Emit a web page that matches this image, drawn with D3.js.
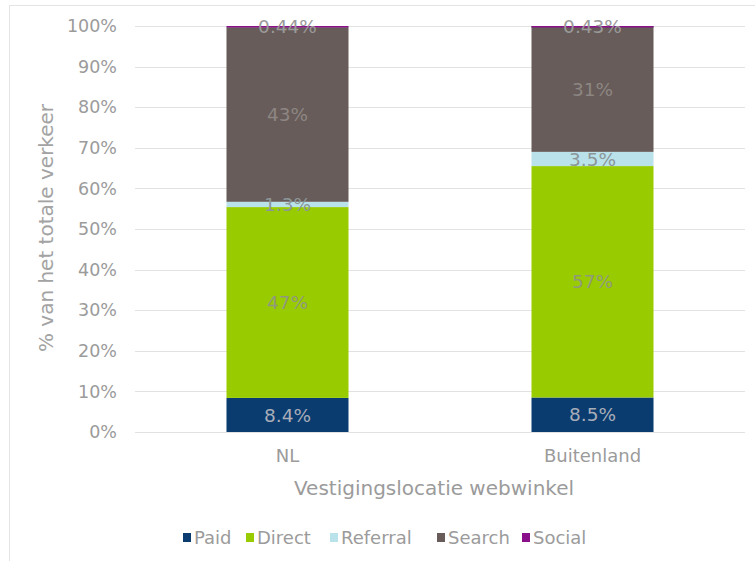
<!DOCTYPE html>
<html>
<head>
<meta charset="utf-8">
<script src="https://cdn.jsdelivr.net/npm/d3@7"></script>
<style>
  html, body { margin: 0; padding: 0; background: #fff; }
  svg { display: block; }
  text { font-family: "DejaVu Sans", Verdana, sans-serif; }
</style>
</head>
<body>
<svg id="chart" width="755" height="561"></svg>
<script>
const categories = ["NL", "Buitenland"];
const seriesNames = ["Paid", "Direct", "Referral", "Search", "Social"];
const paid = [8.4, 8.5];
const direct = [47, 57];
const referral = [1.3, 3.5];
const search = [43, 31];
const social = [0.44, 0.43];
const labelText = {
  Paid: ["8.4%", "8.5%"],
  Direct: ["47%", "57%"],
  Referral: ["1.3%", "3.5%"],
  Search: ["43%", "31%"],
  Social: ["0.44%", "0.43%"]
};
const yTicks = [0, 10, 20, 30, 40, 50, 60, 70, 80, 90, 100];
const colors = ["#0a3c70", "#99cc00", "#b9e2ea", "#675c59", "#8a0f8a"];
const labelColors = ["#a9adb8", "#8f9a7c", "#8c9698", "#8d8683", "#9a9a9a"];

const rows = categories.map((c, i) => ({
  cat: c, Paid: paid[i], Direct: direct[i], Referral: referral[i], Search: search[i], Social: social[i]
}));

const svg = d3.select("#chart");
const W = 755, H = 561;
const margin = { left: 135, right: 10, top: 26, bottom: 129 };
const plotW = W - margin.left - margin.right;
const plotH = H - margin.top - margin.bottom;

// outer frame
svg.append("rect").attr("x", 9.5).attr("y", 5.5).attr("width", W).attr("height", H)
  .attr("fill", "#fff").attr("stroke", "#e4e4e4");

const g = svg.append("g").attr("transform", `translate(${margin.left},${margin.top})`);

const x = d3.scaleBand().domain(categories).range([0, plotW]).paddingInner(0.6).paddingOuter(0.3);
const y = d3.scaleLinear().domain([0, 100]).range([plotH, 0]).clamp(true);

// grid
g.append("g").selectAll("line").data(yTicks).join("line")
  .attr("x1", 0).attr("x2", plotW)
  .attr("y1", d => Math.round(y(d)) + 0.5).attr("y2", d => Math.round(y(d)) + 0.5)
  .attr("stroke", "#e2e2e2").attr("stroke-width", 1.2);

// y axis
const yAxis = g.append("g").call(d3.axisLeft(y).tickValues(yTicks).tickFormat(d => d + "%").tickSize(0).tickPadding(18));
yAxis.select(".domain").remove();
yAxis.selectAll("text").attr("fill", "#9b9b9b").style("font-size", "17.5px").attr("font-family", "DejaVu Sans");

// stacked bars
const stack = d3.stack().keys(seriesNames)(rows);
const layers = g.append("g").selectAll("g").data(stack).join("g")
  .attr("fill", (d, i) => colors[i]);
layers.selectAll("rect").data(d => d).join("rect")
  .attr("x", d => x(d.data.cat))
  .attr("width", x.bandwidth())
  .attr("y", d => y(d[1]))
  .attr("height", d => Math.max(y(d[0]) - y(d[1]), 1.5));

// labels
stack.forEach((layer, si) => {
  g.append("g").selectAll("text").data(layer).join("text")
    .attr("x", d => x(d.data.cat) + x.bandwidth() / 2)
    .attr("y", d => y((d[0] + d[1]) / 2))
    .attr("dy", "0.36em")
    .attr("text-anchor", "middle")
    .attr("fill", labelColors[si])
    .style("font-size", "18.5px")
    .text(d => labelText[layer.key][categories.indexOf(d.data.cat)]);
});

// x axis labels
const xAxis = g.append("g").attr("transform", `translate(0,${plotH})`)
  .call(d3.axisBottom(x).tickSize(0).tickPadding(17));
xAxis.select(".domain").remove();
xAxis.selectAll("text").attr("fill", "#9b9b9b").style("font-size", "18px").attr("font-family", "DejaVu Sans");

// axis titles
svg.append("text").attr("x", margin.left + plotW / 2 - 6).attr("y", 495)
  .attr("text-anchor", "middle").attr("fill", "#9b9b9b").style("font-size", "20px")
  .text("Vestigingslocatie webwinkel");
svg.append("text").attr("transform", `translate(53,228) rotate(-90)`)
  .attr("text-anchor", "middle").attr("fill", "#a3a3a3").style("font-size", "20px")
  .text("% van het totale verkeer");

// legend
const legendTextX = [194, 257, 341, 448, 533];
const lg = svg.append("g");
seriesNames.forEach((s, i) => {
  lg.append("rect").attr("x", legendTextX[i] - 11).attr("y", 533).attr("width", 8).attr("height", 9).attr("fill", colors[i]);
  lg.append("text").attr("x", legendTextX[i]).attr("y", 538).attr("dy", "0.36em")
    .attr("fill", "#9b9b9b").style("font-size", "18px").text(s);
});
</script>
</body>
</html>
